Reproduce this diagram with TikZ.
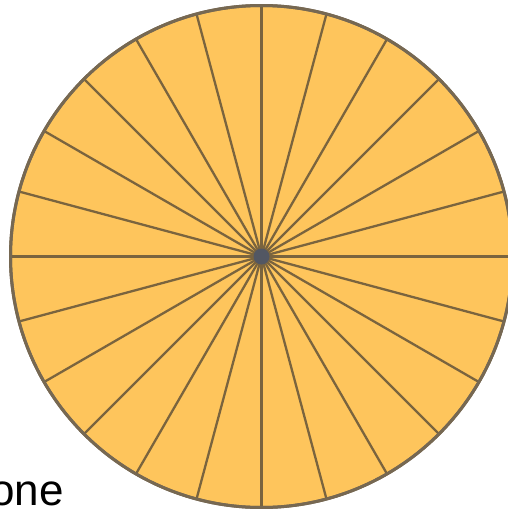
\documentclass[tikz,border=0pt]{standalone}
\usepackage{fontspec}
\setmainfont{Liberation Sans}
\usetikzlibrary{calc}
\definecolor{fillc}{RGB}{254,197,92}
\definecolor{linec}{RGB}{122,100,62}
\definecolor{rimc}{RGB}{118,104,82}
\definecolor{hubc}{RGB}{78,86,104}
\tikzset{spoke/.style={draw=linec,line width=2.3pt},
         rim/.style={draw=rimc,line width=3pt,fill=fillc},
         lbl/.style={font=\fontsize{44}{44}\selectfont,inner sep=0pt,anchor=base west}}
\begin{document}
\begin{tikzpicture}[x=1pt,y=-1pt]
\useasboundingbox (0,0) rectangle (508,509);
\clip (0,0) rectangle (508,509);
\coordinate (c) at (261.5,256.5);
\node[draw=none,circle,minimum size=502pt,inner sep=0pt,rim] (disk) at (c) {};
\foreach \a in {0,15,...,165}{
  \draw[spoke] ($(c)+(\a:251)$) -- ($(c)+(\a+180:251)$);
}
\fill[hubc,opacity=0.9] (c) circle (8);
\node[draw=rimc,line width=3pt,circle,minimum size=502pt,inner sep=0pt] (outline) at (c) {};
\node[lbl] (txt) at (-10,505) {one};
\end{tikzpicture}
\end{document}
